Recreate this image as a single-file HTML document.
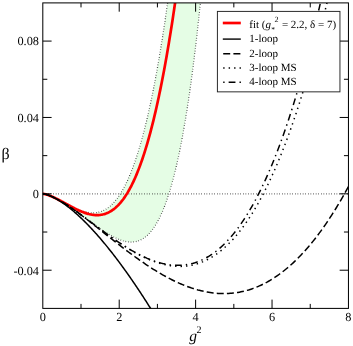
<!DOCTYPE html>
<html><head><meta charset="utf-8"><title>beta</title>
<style>html,body{margin:0;padding:0;background:#fff}svg{display:block;will-change:transform}text{font-family:"Liberation Serif",serif;fill:#000;text-rendering:geometricPrecision}</style></head><body>
<svg width="353" height="346" viewBox="0 0 353 346">
<rect width="353" height="346" fill="#fff"/>
<defs><clipPath id="c"><rect x="42.80" y="2.90" width="305.65" height="305.50"/></clipPath></defs>
<g clip-path="url(#c)" fill="none">
<path d="M42.80,193.84 L43.57,193.91 L44.34,194.03 L45.10,194.19 L45.87,194.38 L46.64,194.60 L47.41,194.83 L48.18,195.09 L48.94,195.36 L49.71,195.64 L50.48,195.95 L51.25,196.26 L52.02,196.58 L52.78,196.92 L53.55,197.27 L54.32,197.62 L55.09,197.99 L55.86,198.36 L56.62,198.73 L57.39,199.12 L58.16,199.51 L58.93,199.90 L59.70,200.30 L60.46,200.70 L61.23,201.11 L62.00,201.51 L62.77,201.92 L63.54,202.33 L64.30,202.74 L65.07,203.15 L65.84,203.55 L66.61,203.96 L67.37,204.37 L68.14,204.77 L68.91,205.17 L69.68,205.56 L70.45,205.95 L71.21,206.34 L71.98,206.72 L72.75,207.10 L73.52,207.46 L74.29,207.83 L75.05,208.18 L75.82,208.53 L76.59,208.86 L77.36,209.19 L78.13,209.51 L78.89,209.81 L79.66,210.11 L80.43,210.39 L81.20,210.66 L81.97,210.92 L82.73,211.17 L83.50,211.40 L84.27,211.62 L85.04,211.82 L85.81,212.00 L86.57,212.17 L87.34,212.32 L88.11,212.46 L88.88,212.58 L89.65,212.67 L90.41,212.75 L91.18,212.81 L91.95,212.85 L92.72,212.86 L93.49,212.86 L94.25,212.83 L95.02,212.78 L95.79,212.70 L96.56,212.60 L97.33,212.48 L98.09,212.33 L98.86,212.15 L99.63,211.94 L100.40,211.71 L101.17,211.45 L101.93,211.17 L102.70,210.85 L103.47,210.50 L104.24,210.12 L105.01,209.71 L105.77,209.27 L106.54,208.79 L107.31,208.28 L108.08,207.74 L108.84,207.16 L109.61,206.54 L110.38,205.89 L111.15,205.21 L111.92,204.48 L112.68,203.72 L113.45,202.92 L114.22,202.08 L114.99,201.19 L115.76,200.27 L116.52,199.30 L117.29,198.30 L118.06,197.25 L118.83,196.15 L119.60,195.01 L120.36,193.83 L121.13,192.60 L121.90,191.32 L122.67,190.00 L123.44,188.62 L124.20,187.20 L124.97,185.73 L125.74,184.21 L126.51,182.63 L127.28,181.01 L128.04,179.33 L128.81,177.60 L129.58,175.81 L130.35,173.97 L131.12,172.08 L131.88,170.13 L132.65,168.12 L133.42,166.05 L134.19,163.92 L134.96,161.74 L135.72,159.49 L136.49,157.19 L137.26,154.82 L138.03,152.39 L138.80,149.89 L139.56,147.33 L140.33,144.71 L141.10,142.02 L141.87,139.26 L142.64,136.44 L143.40,133.55 L144.17,130.59 L144.94,127.56 L145.71,124.46 L146.48,121.29 L147.24,118.05 L148.01,114.73 L148.78,111.34 L149.55,107.88 L150.32,104.34 L151.08,100.72 L151.85,97.03 L152.62,93.26 L153.39,89.41 L154.15,85.48 L154.92,81.47 L155.69,77.38 L156.46,73.21 L157.23,68.95 L157.99,64.61 L158.76,60.19 L159.53,55.68 L160.30,51.09 L161.07,46.40 L161.83,41.63 L162.60,36.78 L163.37,31.83 L164.14,26.79 L164.91,21.66 L165.67,16.44 L166.44,11.12 L167.21,5.71 L167.98,0.21 L168.75,-5.40 L169.51,-11.09 L170.28,-16.89 L171.05,-22.78 L171.82,-28.77 L172.59,-34.86 L173.35,-41.06 L174.12,-47.35 L174.89,-53.75 L175.66,-60.25 L176.43,-66.86 L177.19,-73.57 L177.96,-80.39 L178.73,-87.32 L179.50,-94.35 L180.27,-101.50 L181.03,-108.75 L181.80,-116.11 L182.57,-123.59 L183.34,-131.18 L184.11,-138.88 L184.87,-146.70 L185.64,-154.64 L186.41,-162.69 L187.18,-170.85 L187.95,-179.14 L188.71,-187.55 L189.48,-196.07 L190.25,-204.72 L191.02,-213.49 L191.79,-222.38 L192.55,-231.40 L193.32,-240.54 L194.09,-249.81 L194.86,-259.21 L195.62,-268.73 L252.93,-1112.40 L252.23,-1086.58 L251.53,-1061.14 L250.83,-1036.09 L250.12,-1011.42 L249.42,-987.13 L248.72,-963.21 L248.01,-939.66 L247.31,-916.47 L246.61,-893.64 L245.91,-871.17 L245.20,-849.04 L244.50,-827.26 L243.80,-805.83 L243.10,-784.73 L242.39,-763.97 L241.69,-743.53 L240.99,-723.43 L240.28,-703.64 L239.58,-684.17 L238.88,-665.02 L238.18,-646.18 L237.47,-627.64 L236.77,-609.41 L236.07,-591.48 L235.36,-573.84 L234.66,-556.49 L233.96,-539.43 L233.26,-522.66 L232.55,-506.17 L231.85,-489.95 L231.15,-474.01 L230.45,-458.34 L229.74,-442.93 L229.04,-427.79 L228.34,-412.91 L227.63,-398.28 L226.93,-383.91 L226.23,-369.79 L225.53,-355.91 L224.82,-342.28 L224.12,-328.89 L223.42,-315.74 L222.71,-302.82 L222.01,-290.13 L221.31,-277.67 L220.61,-265.43 L219.90,-253.41 L219.20,-241.62 L218.50,-230.04 L217.79,-218.67 L217.09,-207.51 L216.39,-196.56 L215.69,-185.81 L214.98,-175.26 L214.28,-164.92 L213.58,-154.77 L212.88,-144.81 L212.17,-135.04 L211.47,-125.46 L210.77,-116.06 L210.06,-106.85 L209.36,-97.81 L208.66,-88.96 L207.96,-80.27 L207.25,-71.76 L206.55,-63.42 L205.85,-55.25 L205.14,-47.24 L204.44,-39.39 L203.74,-31.71 L203.04,-24.18 L202.33,-16.80 L201.63,-9.58 L200.93,-2.51 L200.23,4.41 L199.52,11.19 L198.82,17.82 L198.12,24.31 L197.41,30.66 L196.71,36.88 L196.01,42.96 L195.31,48.90 L194.60,54.72 L193.90,60.41 L193.20,65.96 L192.49,71.40 L191.79,76.71 L191.09,81.90 L190.39,86.97 L189.68,91.93 L188.98,96.77 L188.28,101.49 L187.57,106.11 L186.87,110.61 L186.17,115.01 L185.47,119.30 L184.76,123.49 L184.06,127.57 L183.36,131.55 L182.66,135.44 L181.95,139.22 L181.25,142.91 L180.55,146.51 L179.84,150.01 L179.14,153.43 L178.44,156.75 L177.74,159.98 L177.03,163.13 L176.33,166.20 L175.63,169.18 L174.92,172.08 L174.22,174.89 L173.52,177.63 L172.82,180.30 L172.11,182.88 L171.41,185.39 L170.71,187.83 L170.01,190.20 L169.30,192.49 L168.60,194.72 L167.90,196.88 L167.19,198.97 L166.49,200.99 L165.79,202.96 L165.09,204.85 L164.38,206.69 L163.68,208.47 L162.98,210.18 L162.27,211.84 L161.57,213.44 L160.87,214.99 L160.17,216.48 L159.46,217.91 L158.76,219.30 L158.06,220.63 L157.35,221.91 L156.65,223.14 L155.95,224.32 L155.25,225.46 L154.54,226.55 L153.84,227.59 L153.14,228.59 L152.44,229.55 L151.73,230.46 L151.03,231.33 L150.33,232.16 L149.62,232.95 L148.92,233.70 L148.22,234.41 L147.52,235.09 L146.81,235.72 L146.11,236.33 L145.41,236.89 L144.70,237.43 L144.00,237.93 L143.30,238.39 L142.60,238.83 L141.89,239.23 L141.19,239.61 L140.49,239.95 L139.79,240.27 L139.08,240.55 L138.38,240.81 L137.68,241.04 L136.97,241.25 L136.27,241.43 L135.57,241.59 L134.87,241.72 L134.16,241.83 L133.46,241.91 L132.76,241.97 L132.05,242.01 L131.35,242.03 L130.65,242.03 L129.95,242.01 L129.24,241.97 L128.54,241.91 L127.84,241.83 L127.13,241.73 L126.43,241.62 L125.73,241.49 L125.03,241.34 L124.32,241.17 L123.62,240.99 L122.92,240.80 L122.22,240.59 L121.51,240.37 L120.81,240.13 L120.11,239.88 L119.40,239.61 L118.70,239.34 L118.00,239.05 L117.30,238.75 L116.59,238.44 L115.89,238.11 L115.19,237.78 L114.48,237.44 L113.78,237.09 L113.08,236.72 L112.38,236.35 L111.67,235.97 L110.97,235.58 L110.27,235.18 L109.57,234.78 L108.86,234.37 L108.16,233.95 L107.46,233.52 L106.75,233.09 L106.05,232.65 L105.35,232.20 L104.65,231.75 L103.94,231.30 L103.24,230.83 L102.54,230.37 L101.83,229.90 L101.13,229.42 L100.43,228.94 L99.73,228.46 L99.02,227.97 L98.32,227.48 L97.62,226.98 L96.91,226.48 L96.21,225.98 L95.51,225.48 L94.81,224.97 L94.10,224.47 L93.40,223.96 L92.70,223.45 L92.00,222.93 L91.29,222.42 L90.59,221.90 L89.89,221.38 L89.18,220.87 L88.48,220.35 L87.78,219.83 L87.08,219.31 L86.37,218.79 L85.67,218.27 L84.97,217.75 L84.26,217.23 L83.56,216.72 L82.86,216.20 L82.16,215.68 L81.45,215.17 L80.75,214.65 L80.05,214.14 L79.35,213.63 L78.64,213.12 L77.94,212.61 L77.24,212.10 L76.53,211.60 L75.83,211.10 L75.13,210.60 L74.43,210.10 L73.72,209.60 L73.02,209.11 L72.32,208.62 L71.61,208.14 L70.91,207.66 L70.21,207.18 L69.51,206.70 L68.80,206.23 L68.10,205.76 L67.40,205.30 L66.69,204.84 L65.99,204.39 L65.29,203.94 L64.59,203.49 L63.88,203.05 L63.18,202.62 L62.48,202.19 L61.78,201.77 L61.07,201.35 L60.37,200.94 L59.67,200.53 L58.96,200.13 L58.26,199.74 L57.56,199.36 L56.86,198.98 L56.15,198.61 L55.45,198.25 L54.75,197.90 L54.04,197.55 L53.34,197.22 L52.64,196.89 L51.94,196.58 L51.23,196.28 L50.53,195.98 L49.83,195.70 L49.13,195.43 L48.42,195.18 L47.72,194.94 L47.02,194.71 L46.31,194.50 L45.61,194.32 L44.91,194.15 L44.21,194.01 L43.50,193.90 L42.80,193.84 Z" fill="#e5fde5" stroke="none"/>
<path d="M42.80,193.84 L43.57,193.91 L44.34,194.03 L45.10,194.19 L45.87,194.38 L46.64,194.60 L47.41,194.83 L48.18,195.09 L48.94,195.36 L49.71,195.64 L50.48,195.95 L51.25,196.26 L52.02,196.58 L52.78,196.92 L53.55,197.27 L54.32,197.62 L55.09,197.99 L55.86,198.36 L56.62,198.73 L57.39,199.12 L58.16,199.51 L58.93,199.90 L59.70,200.30 L60.46,200.70 L61.23,201.11 L62.00,201.51 L62.77,201.92 L63.54,202.33 L64.30,202.74 L65.07,203.15 L65.84,203.55 L66.61,203.96 L67.37,204.37 L68.14,204.77 L68.91,205.17 L69.68,205.56 L70.45,205.95 L71.21,206.34 L71.98,206.72 L72.75,207.10 L73.52,207.46 L74.29,207.83 L75.05,208.18 L75.82,208.53 L76.59,208.86 L77.36,209.19 L78.13,209.51 L78.89,209.81 L79.66,210.11 L80.43,210.39 L81.20,210.66 L81.97,210.92 L82.73,211.17 L83.50,211.40 L84.27,211.62 L85.04,211.82 L85.81,212.00 L86.57,212.17 L87.34,212.32 L88.11,212.46 L88.88,212.58 L89.65,212.67 L90.41,212.75 L91.18,212.81 L91.95,212.85 L92.72,212.86 L93.49,212.86 L94.25,212.83 L95.02,212.78 L95.79,212.70 L96.56,212.60 L97.33,212.48 L98.09,212.33 L98.86,212.15 L99.63,211.94 L100.40,211.71 L101.17,211.45 L101.93,211.17 L102.70,210.85 L103.47,210.50 L104.24,210.12 L105.01,209.71 L105.77,209.27 L106.54,208.79 L107.31,208.28 L108.08,207.74 L108.84,207.16 L109.61,206.54 L110.38,205.89 L111.15,205.21 L111.92,204.48 L112.68,203.72 L113.45,202.92 L114.22,202.08 L114.99,201.19 L115.76,200.27 L116.52,199.30 L117.29,198.30 L118.06,197.25 L118.83,196.15 L119.60,195.01 L120.36,193.83 L121.13,192.60 L121.90,191.32 L122.67,190.00 L123.44,188.62 L124.20,187.20 L124.97,185.73 L125.74,184.21 L126.51,182.63 L127.28,181.01 L128.04,179.33 L128.81,177.60 L129.58,175.81 L130.35,173.97 L131.12,172.08 L131.88,170.13 L132.65,168.12 L133.42,166.05 L134.19,163.92 L134.96,161.74 L135.72,159.49 L136.49,157.19 L137.26,154.82 L138.03,152.39 L138.80,149.89 L139.56,147.33 L140.33,144.71 L141.10,142.02 L141.87,139.26 L142.64,136.44 L143.40,133.55 L144.17,130.59 L144.94,127.56 L145.71,124.46 L146.48,121.29 L147.24,118.05 L148.01,114.73 L148.78,111.34 L149.55,107.88 L150.32,104.34 L151.08,100.72 L151.85,97.03 L152.62,93.26 L153.39,89.41 L154.15,85.48 L154.92,81.47 L155.69,77.38 L156.46,73.21 L157.23,68.95 L157.99,64.61 L158.76,60.19 L159.53,55.68 L160.30,51.09 L161.07,46.40 L161.83,41.63 L162.60,36.78 L163.37,31.83 L164.14,26.79 L164.91,21.66 L165.67,16.44 L166.44,11.12 L167.21,5.71 L167.98,0.21 L168.75,-5.40 L169.51,-11.09 L170.28,-16.89 L171.05,-22.78 L171.82,-28.77 L172.59,-34.86 L173.35,-41.06 L174.12,-47.35 L174.89,-53.75 L175.66,-60.25 L176.43,-66.86 L177.19,-73.57 L177.96,-80.39 L178.73,-87.32 L179.50,-94.35 L180.27,-101.50 L181.03,-108.75 L181.80,-116.11 L182.57,-123.59 L183.34,-131.18 L184.11,-138.88 L184.87,-146.70 L185.64,-154.64 L186.41,-162.69 L187.18,-170.85 L187.95,-179.14 L188.71,-187.55 L189.48,-196.07 L190.25,-204.72 L191.02,-213.49 L191.79,-222.38 L192.55,-231.40 L193.32,-240.54 L194.09,-249.81 L194.86,-259.21 L195.62,-268.73" stroke="#222" stroke-width="1.25" stroke-dasharray="0.6 2.0"/>
<path d="M42.80,193.84 L43.86,193.95 L44.91,194.15 L45.97,194.41 L47.02,194.71 L48.08,195.06 L49.14,195.44 L50.19,195.84 L51.25,196.28 L52.30,196.74 L53.36,197.23 L54.42,197.73 L55.47,198.26 L56.53,198.81 L57.58,199.37 L58.64,199.95 L59.70,200.55 L60.75,201.16 L61.81,201.79 L62.86,202.42 L63.92,203.08 L64.97,203.74 L66.03,204.41 L67.09,205.10 L68.14,205.79 L69.20,206.50 L70.25,207.21 L71.31,207.93 L72.37,208.66 L73.42,209.39 L74.48,210.14 L75.53,210.88 L76.59,211.64 L77.65,212.40 L78.70,213.16 L79.76,213.93 L80.81,214.70 L81.87,215.47 L82.93,216.25 L83.98,217.03 L85.04,217.81 L86.09,218.59 L87.15,219.37 L88.21,220.15 L89.26,220.92 L90.32,221.70 L91.37,222.48 L92.43,223.25 L93.49,224.02 L94.54,224.78 L95.60,225.54 L96.65,226.30 L97.71,227.05 L98.77,227.79 L99.82,228.52 L100.88,229.25 L101.93,229.96 L102.99,230.67 L104.05,231.36 L105.10,232.05 L106.16,232.72 L107.21,233.37 L108.27,234.01 L109.32,234.64 L110.38,235.25 L111.44,235.84 L112.49,236.41 L113.55,236.97 L114.60,237.50 L115.66,238.01 L116.72,238.49 L117.77,238.95 L118.83,239.39 L119.88,239.80 L120.94,240.17 L122.00,240.52 L123.05,240.84 L124.11,241.12 L125.16,241.37 L126.22,241.58 L127.28,241.75 L128.33,241.89 L129.39,241.98 L130.44,242.03 L131.50,242.03 L132.56,241.99 L133.61,241.90 L134.67,241.75 L135.72,241.56 L136.78,241.30 L137.84,240.99 L138.89,240.63 L139.95,240.20 L141.00,239.70 L142.06,239.14 L143.12,238.51 L144.17,237.81 L145.23,237.03 L146.28,236.18 L147.34,235.25 L148.40,234.24 L149.45,233.14 L150.51,231.95 L151.56,230.67 L152.62,229.30 L153.67,227.83 L154.73,226.26 L155.79,224.59 L156.84,222.81 L157.90,220.92 L158.95,218.92 L160.01,216.80 L161.07,214.56 L162.12,212.19 L163.18,209.70 L164.23,207.07 L165.29,204.31 L166.35,201.40 L167.40,198.36 L168.46,195.16 L169.51,191.81 L170.57,188.30 L171.63,184.63 L172.68,180.80 L173.74,176.79 L174.79,172.61 L175.85,168.24 L176.91,163.69 L177.96,158.95 L179.02,154.02 L180.07,148.88 L181.13,143.53 L182.19,137.98 L183.24,132.20 L184.30,126.21 L185.35,119.98 L186.41,113.52 L187.47,106.82 L188.52,99.87 L189.58,92.66 L190.63,85.20 L191.69,77.47 L192.75,69.47 L193.80,61.20 L194.86,52.63 L195.91,43.77 L196.97,34.61 L198.02,25.15 L199.08,15.37 L200.14,5.27 L201.19,-5.16 L202.25,-15.93 L203.30,-27.04 L204.36,-38.50 L205.42,-50.32 L206.47,-62.51 L207.53,-75.08 L208.58,-88.03 L209.64,-101.38 L210.70,-115.13 L211.75,-129.29 L212.81,-143.87 L213.86,-158.87 L214.92,-174.32 L215.98,-190.21 L217.03,-206.57 L218.09,-223.38 L219.14,-240.68 L220.20,-258.46 L221.26,-276.74 L222.31,-295.52 L223.37,-314.82 L224.42,-334.65 L225.48,-355.02 L226.54,-375.93 L227.59,-397.41 L228.65,-419.46 L229.70,-442.09 L230.76,-465.31 L231.82,-489.14 L232.87,-513.59 L233.93,-538.67 L234.98,-564.39 L236.04,-590.76 L237.10,-617.80 L238.15,-645.52 L239.21,-673.93 L240.26,-703.05 L241.32,-732.88 L242.37,-763.45 L243.43,-794.76 L244.49,-826.83 L245.54,-859.67 L246.60,-893.30 L247.65,-927.73 L248.71,-962.97 L249.77,-999.05 L250.82,-1035.97 L251.88,-1073.75 L252.93,-1112.40" stroke="#222" stroke-width="1.25" stroke-dasharray="0.6 2.0"/>
<path d="M42.80,193.84 L348.45,193.84" stroke="#222" stroke-width="1.25" stroke-dasharray="0.6 2.0"/>
<path d="M42.80,193.84 L43.57,193.91 L44.34,194.03 L45.10,194.19 L45.87,194.38 L46.64,194.60 L47.41,194.83 L48.18,195.09 L48.94,195.36 L49.71,195.65 L50.48,195.95 L51.25,196.26 L52.02,196.59 L52.78,196.93 L53.55,197.28 L54.32,197.63 L55.09,198.00 L55.86,198.37 L56.62,198.76 L57.39,199.14 L58.16,199.54 L58.93,199.94 L59.70,200.34 L60.46,200.75 L61.23,201.16 L62.00,201.58 L62.77,202.00 L63.54,202.42 L64.30,202.84 L65.07,203.26 L65.84,203.68 L66.61,204.11 L67.37,204.53 L68.14,204.95 L68.91,205.37 L69.68,205.78 L70.45,206.20 L71.21,206.61 L71.98,207.02 L72.75,207.42 L73.52,207.82 L74.29,208.21 L75.05,208.60 L75.82,208.98 L76.59,209.35 L77.36,209.72 L78.13,210.08 L78.89,210.43 L79.66,210.78 L80.43,211.11 L81.20,211.43 L81.97,211.75 L82.73,212.05 L83.50,212.34 L84.27,212.62 L85.04,212.89 L85.81,213.15 L86.57,213.39 L87.34,213.62 L88.11,213.83 L88.88,214.03 L89.65,214.21 L90.41,214.38 L91.18,214.53 L91.95,214.67 L92.72,214.79 L93.49,214.89 L94.25,214.97 L95.02,215.03 L95.79,215.07 L96.56,215.10 L97.33,215.10 L98.09,215.08 L98.86,215.04 L99.63,214.98 L100.40,214.89 L101.17,214.78 L101.93,214.65 L102.70,214.49 L103.47,214.31 L104.24,214.10 L105.01,213.87 L105.77,213.61 L106.54,213.32 L107.31,213.00 L108.08,212.66 L108.84,212.29 L109.61,211.89 L110.38,211.45 L111.15,210.99 L111.92,210.50 L112.68,209.97 L113.45,209.41 L114.22,208.82 L114.99,208.20 L115.76,207.54 L116.52,206.84 L117.29,206.11 L118.06,205.35 L118.83,204.55 L119.60,203.71 L120.36,202.83 L121.13,201.92 L121.90,200.96 L122.67,199.97 L123.44,198.94 L124.20,197.86 L124.97,196.75 L125.74,195.59 L126.51,194.39 L127.28,193.15 L128.04,191.86 L128.81,190.53 L129.58,189.15 L130.35,187.73 L131.12,186.26 L131.88,184.75 L132.65,183.18 L133.42,181.57 L134.19,179.91 L134.96,178.20 L135.72,176.44 L136.49,174.63 L137.26,172.76 L138.03,170.85 L138.80,168.88 L139.56,166.86 L140.33,164.78 L141.10,162.65 L141.87,160.47 L142.64,158.23 L143.40,155.93 L144.17,153.57 L144.94,151.16 L145.71,148.68 L146.48,146.15 L147.24,143.56 L148.01,140.90 L148.78,138.19 L149.55,135.41 L150.32,132.57 L151.08,129.67 L151.85,126.70 L152.62,123.67 L153.39,120.57 L154.15,117.40 L154.92,114.17 L155.69,110.87 L156.46,107.50 L157.23,104.07 L157.99,100.56 L158.76,96.98 L159.53,93.33 L160.30,89.61 L161.07,85.82 L161.83,81.95 L162.60,78.01 L163.37,74.00 L164.14,69.90 L164.91,65.74 L165.67,61.49 L166.44,57.17 L167.21,52.77 L167.98,48.29 L168.75,43.73 L169.51,39.09 L170.28,34.37 L171.05,29.56 L171.82,24.67 L172.59,19.70 L173.35,14.65 L174.12,9.51 L174.89,4.28 L175.66,-1.03 L176.43,-6.43 L177.19,-11.92 L177.96,-17.49 L178.73,-23.16 L179.50,-28.92 L180.27,-34.77 L181.03,-40.71 L181.80,-46.74 L182.57,-52.86 L183.34,-59.08 L184.11,-65.40 L184.87,-71.81 L185.64,-78.32 L186.41,-84.92 L187.18,-91.62 L187.95,-98.43 L188.71,-105.33 L189.48,-112.33 L190.25,-119.43 L191.02,-126.64 L191.79,-133.94 L192.55,-141.36 L193.32,-148.87 L194.09,-156.49 L194.86,-164.22 L195.62,-172.05" stroke="#f00" stroke-width="2.7" stroke-linejoin="round"/>
<path d="M42.80,193.84 L43.41,193.89 L44.03,193.98 L44.64,194.09 L45.26,194.23 L45.87,194.39 L46.49,194.56 L47.10,194.75 L47.71,194.95 L48.33,195.17 L48.94,195.40 L49.56,195.64 L50.17,195.89 L50.79,196.15 L51.40,196.42 L52.02,196.70 L52.63,196.99 L53.24,197.29 L53.86,197.60 L54.47,197.92 L55.09,198.25 L55.70,198.58 L56.32,198.93 L56.93,199.28 L57.54,199.64 L58.16,200.00 L58.77,200.37 L59.39,200.76 L60.00,201.14 L60.62,201.54 L61.23,201.94 L61.85,202.35 L62.46,202.76 L63.07,203.19 L63.69,203.61 L64.30,204.05 L64.92,204.49 L65.53,204.94 L66.15,205.39 L66.76,205.85 L67.37,206.31 L67.99,206.78 L68.60,207.26 L69.22,207.74 L69.83,208.23 L70.45,208.72 L71.06,209.22 L71.68,209.73 L72.29,210.24 L72.90,210.75 L73.52,211.27 L74.13,211.80 L74.75,212.33 L75.36,212.86 L75.98,213.41 L76.59,213.95 L77.20,214.50 L77.82,215.06 L78.43,215.62 L79.05,216.18 L79.66,216.76 L80.28,217.33 L80.89,217.91 L81.51,218.50 L82.12,219.08 L82.73,219.68 L83.35,220.28 L83.96,220.88 L84.58,221.49 L85.19,222.10 L85.81,222.72 L86.42,223.34 L87.03,223.96 L87.65,224.59 L88.26,225.23 L88.88,225.87 L89.49,226.51 L90.11,227.16 L90.72,227.81 L91.34,228.46 L91.95,229.12 L92.56,229.79 L93.18,230.45 L93.79,231.13 L94.41,231.80 L95.02,232.48 L95.64,233.16 L96.25,233.85 L96.86,234.54 L97.48,235.24 L98.09,235.94 L98.71,236.64 L99.32,237.35 L99.94,238.06 L100.55,238.78 L101.17,239.50 L101.78,240.22 L102.39,240.95 L103.01,241.68 L103.62,242.41 L104.24,243.15 L104.85,243.89 L105.47,244.64 L106.08,245.38 L106.69,246.14 L107.31,246.89 L107.92,247.65 L108.54,248.42 L109.15,249.18 L109.77,249.95 L110.38,250.73 L111.00,251.51 L111.61,252.29 L112.22,253.07 L112.84,253.86 L113.45,254.65 L114.07,255.45 L114.68,256.24 L115.30,257.05 L115.91,257.85 L116.52,258.66 L117.14,259.47 L117.75,260.29 L118.37,261.10 L118.98,261.93 L119.60,262.75 L120.21,263.58 L120.83,264.41 L121.44,265.25 L122.05,266.09 L122.67,266.93 L123.28,267.77 L123.90,268.62 L124.51,269.47 L125.13,270.33 L125.74,271.19 L126.35,272.05 L126.97,272.91 L127.58,273.78 L128.20,274.65 L128.81,275.52 L129.43,276.40 L130.04,277.28 L130.66,278.16 L131.27,279.05 L131.88,279.94 L132.50,280.83 L133.11,281.72 L133.73,282.62 L134.34,283.52 L134.96,284.43 L135.57,285.34 L136.18,286.25 L136.80,287.16 L137.41,288.08 L138.03,289.00 L138.64,289.92 L139.26,290.84 L139.87,291.77 L140.49,292.70 L141.10,293.64 L141.71,294.57 L142.33,295.51 L142.94,296.46 L143.56,297.40 L144.17,298.35 L144.79,299.30 L145.40,300.26 L146.01,301.21 L146.63,302.17 L147.24,303.14 L147.86,304.10 L148.47,305.07 L149.09,306.04 L149.70,307.02 L150.32,307.99 L150.93,308.97 L151.54,309.96 L152.16,310.94 L152.77,311.93 L153.39,312.92 L154.00,313.92 L154.62,314.91 L155.23,315.91 L155.84,316.91 L156.46,317.92 L157.07,318.93 L157.69,319.94 L158.30,320.95 L158.92,321.96 L159.53,322.98 L160.15,324.00 L160.76,325.03 L161.37,326.05 L161.99,327.08 L162.60,328.11 L163.22,329.15 L163.83,330.18 L164.45,331.22 L165.06,332.27" stroke="#000" stroke-width="1.5"/>
<path d="M42.80,193.84 L44.34,194.03 L45.87,194.38 L47.41,194.83 L48.94,195.37 L50.48,195.96 L52.02,196.61 L53.55,197.32 L55.09,198.07 L56.62,198.86 L58.16,199.69 L59.70,200.55 L61.23,201.45 L62.77,202.37 L64.30,203.32 L65.84,204.30 L67.37,205.30 L68.91,206.32 L70.45,207.36 L71.98,208.42 L73.52,209.50 L75.05,210.59 L76.59,211.70 L78.13,212.82 L79.66,213.95 L81.20,215.10 L82.73,216.26 L84.27,217.42 L85.81,218.60 L87.34,219.78 L88.88,220.97 L90.41,222.17 L91.95,223.37 L93.49,224.58 L95.02,225.79 L96.56,227.01 L98.09,228.22 L99.63,229.44 L101.17,230.66 L102.70,231.88 L104.24,233.11 L105.77,234.33 L107.31,235.55 L108.84,236.77 L110.38,237.98 L111.92,239.20 L113.45,240.41 L114.99,241.61 L116.52,242.82 L118.06,244.02 L119.60,245.21 L121.13,246.40 L122.67,247.58 L124.20,248.75 L125.74,249.92 L127.28,251.08 L128.81,252.23 L130.35,253.38 L131.88,254.51 L133.42,255.64 L134.96,256.75 L136.49,257.86 L138.03,258.96 L139.56,260.04 L141.10,261.12 L142.64,262.18 L144.17,263.23 L145.71,264.27 L147.24,265.30 L148.78,266.31 L150.32,267.31 L151.85,268.29 L153.39,269.27 L154.92,270.22 L156.46,271.17 L157.99,272.10 L159.53,273.01 L161.07,273.91 L162.60,274.79 L164.14,275.65 L165.67,276.50 L167.21,277.33 L168.75,278.15 L170.28,278.94 L171.82,279.72 L173.35,280.48 L174.89,281.22 L176.43,281.95 L177.96,282.65 L179.50,283.34 L181.03,284.00 L182.57,284.65 L184.11,285.27 L185.64,285.88 L187.18,286.46 L188.71,287.02 L190.25,287.56 L191.79,288.09 L193.32,288.58 L194.86,289.06 L196.39,289.51 L197.93,289.95 L199.46,290.35 L201.00,290.74 L202.54,291.10 L204.07,291.44 L205.61,291.75 L207.14,292.04 L208.68,292.31 L210.22,292.55 L211.75,292.77 L213.29,292.96 L214.82,293.13 L216.36,293.27 L217.90,293.38 L219.43,293.47 L220.97,293.53 L222.50,293.57 L224.04,293.58 L225.58,293.56 L227.11,293.52 L228.65,293.44 L230.18,293.34 L231.72,293.22 L233.26,293.06 L234.79,292.87 L236.33,292.66 L237.86,292.42 L239.40,292.15 L240.93,291.85 L242.47,291.52 L244.01,291.16 L245.54,290.77 L247.08,290.35 L248.61,289.91 L250.15,289.43 L251.69,288.92 L253.22,288.38 L254.76,287.80 L256.29,287.20 L257.83,286.57 L259.37,285.90 L260.90,285.20 L262.44,284.47 L263.97,283.71 L265.51,282.91 L267.05,282.09 L268.58,281.23 L270.12,280.33 L271.65,279.40 L273.19,278.44 L274.73,277.45 L276.26,276.42 L277.80,275.36 L279.33,274.26 L280.87,273.13 L282.41,271.97 L283.94,270.77 L285.48,269.53 L287.01,268.26 L288.55,266.96 L290.08,265.62 L291.62,264.24 L293.16,262.83 L294.69,261.38 L296.23,259.90 L297.76,258.38 L299.30,256.82 L300.84,255.22 L302.37,253.59 L303.91,251.92 L305.44,250.22 L306.98,248.47 L308.52,246.69 L310.05,244.87 L311.59,243.02 L313.12,241.12 L314.66,239.19 L316.20,237.22 L317.73,235.21 L319.27,233.16 L320.80,231.07 L322.34,228.94 L323.88,226.77 L325.41,224.57 L326.95,222.32 L328.48,220.03 L330.02,217.71 L331.55,215.34 L333.09,212.93 L334.63,210.49 L336.16,208.00 L337.70,205.47 L339.23,202.90 L340.77,200.29 L342.31,197.63 L343.84,194.94 L345.38,192.21 L346.91,189.43 L348.45,186.61" stroke="#000" stroke-width="1.5" stroke-dasharray="7 3.15"/>
<path d="M42.80,193.84 L44.34,194.03 L45.87,194.38 L47.41,194.83 L48.94,195.36 L50.48,195.96 L52.02,196.61 L53.55,197.32 L55.09,198.06 L56.62,198.85 L58.16,199.68 L59.70,200.54 L61.23,201.43 L62.77,202.35 L64.30,203.29 L65.84,204.26 L67.37,205.25 L68.91,206.27 L70.45,207.30 L71.98,208.34 L73.52,209.41 L75.05,210.48 L76.59,211.57 L78.13,212.67 L79.66,213.78 L81.20,214.90 L82.73,216.03 L84.27,217.16 L85.81,218.30 L87.34,219.45 L88.88,220.60 L90.41,221.75 L91.95,222.90 L93.49,224.05 L95.02,225.21 L96.56,226.36 L98.09,227.51 L99.63,228.66 L101.17,229.80 L102.70,230.94 L104.24,232.07 L105.77,233.20 L107.31,234.32 L108.84,235.44 L110.38,236.54 L111.92,237.64 L113.45,238.73 L114.99,239.80 L116.52,240.87 L118.06,241.92 L119.60,242.96 L121.13,243.98 L122.67,244.99 L124.20,245.99 L125.74,246.97 L127.28,247.94 L128.81,248.88 L130.35,249.81 L131.88,250.73 L133.42,251.62 L134.96,252.49 L136.49,253.34 L138.03,254.18 L139.56,254.99 L141.10,255.77 L142.64,256.54 L144.17,257.28 L145.71,258.00 L147.24,258.69 L148.78,259.36 L150.32,260.00 L151.85,260.61 L153.39,261.20 L154.92,261.76 L156.46,262.29 L157.99,262.79 L159.53,263.26 L161.07,263.70 L162.60,264.11 L164.14,264.49 L165.67,264.84 L167.21,265.15 L168.75,265.43 L170.28,265.67 L171.82,265.88 L173.35,266.06 L174.89,266.20 L176.43,266.30 L177.96,266.37 L179.50,266.39 L181.03,266.38 L182.57,266.33 L184.11,266.25 L185.64,266.12 L187.18,265.95 L188.71,265.74 L190.25,265.48 L191.79,265.19 L193.32,264.85 L194.86,264.47 L196.39,264.04 L197.93,263.57 L199.46,263.05 L201.00,262.49 L202.54,261.88 L204.07,261.22 L205.61,260.52 L207.14,259.76 L208.68,258.96 L210.22,258.11 L211.75,257.21 L213.29,256.26 L214.82,255.25 L216.36,254.20 L217.90,253.09 L219.43,251.92 L220.97,250.71 L222.50,249.44 L224.04,248.11 L225.58,246.73 L227.11,245.30 L228.65,243.80 L230.18,242.25 L231.72,240.64 L233.26,238.98 L234.79,237.25 L236.33,235.46 L237.86,233.62 L239.40,231.71 L240.93,229.74 L242.47,227.71 L244.01,225.62 L245.54,223.46 L247.08,221.24 L248.61,218.96 L250.15,216.61 L251.69,214.19 L253.22,211.71 L254.76,209.16 L256.29,206.54 L257.83,203.86 L259.37,201.11 L260.90,198.29 L262.44,195.39 L263.97,192.43 L265.51,189.40 L267.05,186.30 L268.58,183.12 L270.12,179.87 L271.65,176.55 L273.19,173.15 L274.73,169.68 L276.26,166.13 L277.80,162.51 L279.33,158.81 L280.87,155.03 L282.41,151.18 L283.94,147.25 L285.48,143.24 L287.01,139.15 L288.55,134.98 L290.08,130.73 L291.62,126.40 L293.16,121.98 L294.69,117.49 L296.23,112.91 L297.76,108.25 L299.30,103.50 L300.84,98.67 L302.37,93.75 L303.91,88.75 L305.44,83.66 L306.98,78.48 L308.52,73.21 L310.05,67.86 L311.59,62.42 L313.12,56.88 L314.66,51.26 L316.20,45.54 L317.73,39.74 L319.27,33.84 L320.80,27.85 L322.34,21.76 L323.88,15.59 L325.41,9.31 L326.95,2.94 L328.48,-3.52 L330.02,-10.08 L331.55,-16.74 L333.09,-23.50 L334.63,-30.35 L336.16,-37.31 L337.70,-44.36 L339.23,-51.51 L340.77,-58.77 L342.31,-66.13 L343.84,-73.58 L345.38,-81.15 L346.91,-88.81 L348.45,-96.58" stroke="#000" stroke-width="1.5" stroke-dasharray="1.4 4.05"/>
<path d="M42.80,193.84 L44.34,194.03 L45.87,194.38 L47.41,194.83 L48.94,195.36 L50.48,195.96 L52.02,196.61 L53.55,197.32 L55.09,198.06 L56.62,198.85 L58.16,199.68 L59.70,200.54 L61.23,201.43 L62.77,202.35 L64.30,203.29 L65.84,204.26 L67.37,205.25 L68.91,206.27 L70.45,207.30 L71.98,208.34 L73.52,209.40 L75.05,210.48 L76.59,211.57 L78.13,212.67 L79.66,213.78 L81.20,214.90 L82.73,216.03 L84.27,217.16 L85.81,218.30 L87.34,219.44 L88.88,220.59 L90.41,221.74 L91.95,222.89 L93.49,224.04 L95.02,225.19 L96.56,226.34 L98.09,227.49 L99.63,228.64 L101.17,229.78 L102.70,230.91 L104.24,232.05 L105.77,233.17 L107.31,234.29 L108.84,235.40 L110.38,236.50 L111.92,237.59 L113.45,238.67 L114.99,239.74 L116.52,240.80 L118.06,241.84 L119.60,242.88 L121.13,243.89 L122.67,244.90 L124.20,245.88 L125.74,246.86 L127.28,247.81 L128.81,248.75 L130.35,249.67 L131.88,250.57 L133.42,251.45 L134.96,252.31 L136.49,253.14 L138.03,253.96 L139.56,254.76 L141.10,255.53 L142.64,256.27 L144.17,257.00 L145.71,257.69 L147.24,258.37 L148.78,259.01 L150.32,259.63 L151.85,260.22 L153.39,260.78 L154.92,261.31 L156.46,261.81 L157.99,262.28 L159.53,262.72 L161.07,263.13 L162.60,263.51 L164.14,263.85 L165.67,264.16 L167.21,264.43 L168.75,264.67 L170.28,264.87 L171.82,265.04 L173.35,265.17 L174.89,265.26 L176.43,265.31 L177.96,265.33 L179.50,265.30 L181.03,265.24 L182.57,265.13 L184.11,264.98 L185.64,264.79 L187.18,264.55 L188.71,264.27 L190.25,263.95 L191.79,263.58 L193.32,263.16 L194.86,262.70 L196.39,262.20 L197.93,261.64 L199.46,261.03 L201.00,260.38 L202.54,259.68 L204.07,258.92 L205.61,258.12 L207.14,257.26 L208.68,256.35 L210.22,255.39 L211.75,254.38 L213.29,253.30 L214.82,252.18 L216.36,251.00 L217.90,249.76 L219.43,248.46 L220.97,247.11 L222.50,245.70 L224.04,244.23 L225.58,242.70 L227.11,241.10 L228.65,239.45 L230.18,237.74 L231.72,235.96 L233.26,234.12 L234.79,232.21 L236.33,230.24 L237.86,228.21 L239.40,226.11 L240.93,223.94 L242.47,221.70 L244.01,219.40 L245.54,217.02 L247.08,214.58 L248.61,212.07 L250.15,209.48 L251.69,206.83 L253.22,204.10 L254.76,201.30 L256.29,198.42 L257.83,195.47 L259.37,192.45 L260.90,189.35 L262.44,186.17 L263.97,182.91 L265.51,179.58 L267.05,176.16 L268.58,172.67 L270.12,169.10 L271.65,165.45 L273.19,161.71 L274.73,157.89 L276.26,153.99 L277.80,150.00 L279.33,145.93 L280.87,141.77 L282.41,137.53 L283.94,133.20 L285.48,128.78 L287.01,124.28 L288.55,119.68 L290.08,115.00 L291.62,110.22 L293.16,105.35 L294.69,100.39 L296.23,95.34 L297.76,90.19 L299.30,84.95 L300.84,79.61 L302.37,74.18 L303.91,68.65 L305.44,63.02 L306.98,57.30 L308.52,51.47 L310.05,45.55 L311.59,39.52 L313.12,33.39 L314.66,27.16 L316.20,20.83 L317.73,14.39 L319.27,7.85 L320.80,1.20 L322.34,-5.55 L323.88,-12.41 L325.41,-19.38 L326.95,-26.45 L328.48,-33.64 L330.02,-40.94 L331.55,-48.35 L333.09,-55.87 L334.63,-63.50 L336.16,-71.25 L337.70,-79.11 L339.23,-87.08 L340.77,-95.17 L342.31,-103.38 L343.84,-111.71 L345.38,-120.15 L346.91,-128.72 L348.45,-137.40" stroke="#000" stroke-width="1.5" stroke-dasharray="1.4 4.05 6.8 4.05"/>
</g>
<g stroke="#000" stroke-width="1.02" fill="none">
<rect x="42.80" y="2.90" width="305.65" height="305.50"/>
</g>
<g stroke="#000" stroke-width="1.0" fill="none">
<path d="M81.01,308.40 v-4.50 M81.01,2.90 v4.50"/>
<path d="M119.21,308.40 v-8.80 M119.21,2.90 v8.80"/>
<path d="M157.42,308.40 v-4.50 M157.42,2.90 v4.50"/>
<path d="M195.62,308.40 v-8.80 M195.62,2.90 v8.80"/>
<path d="M233.83,308.40 v-4.50 M233.83,2.90 v4.50"/>
<path d="M272.04,308.40 v-8.80 M272.04,2.90 v8.80"/>
<path d="M310.24,308.40 v-4.50 M310.24,2.90 v4.50"/>
<path d="M42.80,270.21 h8.80 M348.45,270.21 h-8.80"/>
<path d="M42.80,232.02 h4.50 M348.45,232.02 h-4.50"/>
<path d="M42.80,193.84 h8.80 M348.45,193.84 h-8.80"/>
<path d="M42.80,155.65 h4.50 M348.45,155.65 h-4.50"/>
<path d="M42.80,117.46 h8.80 M348.45,117.46 h-8.80"/>
<path d="M42.80,79.28 h4.50 M348.45,79.28 h-4.50"/>
<path d="M42.80,41.09 h8.80 M348.45,41.09 h-8.80"/>
</g>
<g font-size="12.3">
<text x="42.80" y="321.2" text-anchor="middle">0</text>
<text x="119.21" y="321.2" text-anchor="middle">2</text>
<text x="195.62" y="321.2" text-anchor="middle">4</text>
<text x="272.04" y="321.2" text-anchor="middle">6</text>
<text x="348.45" y="321.2" text-anchor="middle">8</text>
<text x="39.0" y="45.49" text-anchor="end">0.08</text>
<text x="39.0" y="121.86" text-anchor="end">0.04</text>
<text x="39.0" y="198.24" text-anchor="end">0</text>
<text x="39.0" y="274.61" text-anchor="end">-0.04</text>
</g>
<text x="1.6" y="159.4" font-size="16">β</text>
<text x="189.3" y="340.8" font-size="15.5" font-style="italic">g</text>
<text x="196.5" y="333.0" font-size="10">2</text>
<rect x="217.4" y="11.4" width="122.55" height="80.45" fill="#fff" stroke="#222" stroke-width="0.95"/>
<g fill="none" stroke="#000" stroke-width="1.4">
<path d="M222.8,23.0 H240.8" stroke="#f00" stroke-width="2.7"/>
<path d="M222.8,39.1 H240.8"/>
<path d="M223.2,53.8 H240.9" stroke-dasharray="7 3.2"/>
<path d="M223.2,68.0 H240.9" stroke-dasharray="1.4 4.05"/>
<path d="M223.2,82.3 H240.9" stroke-dasharray="1.4 4.05 6.8 4.05"/>
</g>
<g font-size="11">
<text x="249.3" y="27.8">fit (<tspan font-style="italic">g</tspan></text>
<text x="271.2" y="31.8" font-size="7.5">*</text>
<text x="274.4" y="21.5" font-size="8">2</text>
<text x="281.9" y="27.8">= 2.2, δ = 7)</text>
<text x="249.3" y="42.3">1-loop</text>
<text x="249.3" y="56.7">2-loop</text>
<text x="249.3" y="71.0">3-loop MS</text>
<text x="249.3" y="85.2">4-loop MS</text>
</g>
</svg></body></html>
